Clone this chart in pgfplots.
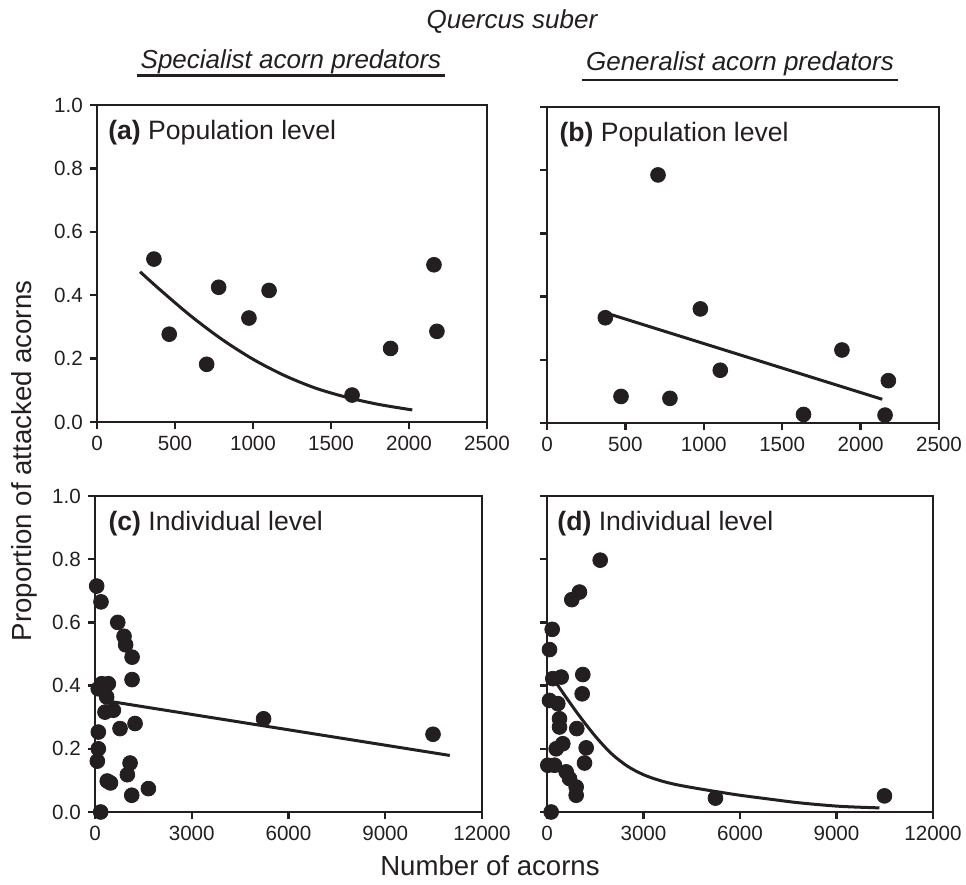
\documentclass[border=0pt]{standalone}
\usepackage{fontspec}
\setmainfont{Liberation Sans}
\usepackage{pgfplots}
\pgfplotsset{compat=1.18}
\definecolor{ink}{RGB}{35,31,32}

\pgfplotsset{
  panel/.style={
    scale only axis, anchor=south west, clip=false,
    axis line style={line width=1.2pt, ink},
    tick style={line width=1.2pt, ink},
    major tick length=3.6pt, tick align=outside,
    xtick pos=bottom, ytick pos=left,
    ymin=0, ymax=1, ytick={0,0.2,0.4,0.6,0.8,1},
    ticklabel style={font=\fontsize{10.3}{12}\selectfont, text=ink},
    /pgf/number format/assume math mode=true,
    /pgf/number format/set thousands separator={},
    yticklabel style={/pgf/number format/.cd, fixed, fixed zerofill, precision=1},
  },
  pop/.style={panel, xmin=0, xmax=2500, xtick={0,500,1000,1500,2000,2500}},
  ind/.style={panel, xmin=0, xmax=12000, xtick={0,3000,6000,9000,12000},
    scaled x ticks=false},
  dots/.style={only marks, mark=*, mark size=3.7pt, ink},
  fit/.style={ink, line width=1.5pt, no marks},
}
\tikzset{tag/.style={anchor=west, inner sep=0pt, font=\fontsize{13.3}{15}\selectfont, text=ink}}
\newcommand{\lbl}{\fontsize{13}{15}\selectfont}
\newcommand{\axl}{\fontsize{13.8}{16}\selectfont}

\begin{document}
\begin{tikzpicture}
\path[use as bounding box] (0,0) rectangle (483pt,442.5pt);

% (a)
\begin{axis}[pop, at={(48.5pt,231.5pt)}, width=195pt, height=158.5pt]
\addplot[dots] coordinates {(365,0.514) (463,0.277) (703,0.182) (780,0.425) (974,0.328)
  (1103,0.415) (1635,0.085) (1882,0.232) (2160,0.496) (2179,0.286)};
\addplot[fit, smooth] coordinates {(276,0.474) (400,0.419) (600,0.335) (800,0.261) (1000,0.198)
  (1200,0.147) (1400,0.107) (1600,0.078) (1800,0.056) (2021,0.038)};
\node[tag] at (rel axis cs:0.028,0.912) {\textbf{(a)} Population level};
\end{axis}

% (b)
\begin{axis}[pop, at={(273.5pt,231pt)}, width=196pt, height=158pt, yticklabels={}]
\addplot[dots] coordinates {(372,0.333) (472,0.084) (708,0.785) (784,0.078) (978,0.361)
  (1105,0.167) (1636,0.027) (1881,0.231) (2156,0.025) (2177,0.134)};
\addplot[fit] coordinates {(390,0.346) (2138,0.075)};
\node[tag] at (rel axis cs:0.031,0.912) {\textbf{(b)} Population level};
\end{axis}

% (c)
\begin{axis}[ind, at={(47.5pt,36.5pt)}, width=193.5pt, height=158pt]
\addplot[dots] coordinates {(52,0.715) (186,0.665) (705,0.600) (900,0.556) (950,0.529)
  (1150,0.490) (1149,0.419) (207,0.406) (413,0.406) (100,0.390) (362,0.364) (310,0.316)
  (569,0.322) (776,0.264) (1242,0.280) (103,0.253) (103,0.200) (72,0.161) (1087,0.155)
  (1004,0.118) (380,0.098) (480,0.092) (1656,0.074) (1139,0.053) (176,0.0)
  (5227,0.295) (10481,0.246)};
\addplot[fit] coordinates {(400,0.351) (11000,0.179)};
\node[tag] at (rel axis cs:0.034,0.912) {\textbf{(c)} Individual level};
\end{axis}

% (d)
\begin{axis}[ind, at={(273.5pt,36.5pt)}, width=193pt, height=158pt, yticklabels={}]
\addplot[dots] coordinates {(1654,0.797) (1010,0.696) (771,0.672) (162,0.578) (78,0.514)
  (181,0.422) (441,0.427) (1113,0.435) (1094,0.374) (78,0.353) (336,0.343) (389,0.295)
  (389,0.269) (926,0.264) (491,0.216) (286,0.200) (1218,0.203) (1166,0.155) (26,0.148)
  (233,0.148) (596,0.127) (700,0.106) (907,0.079) (907,0.053) (130,0.0)
  (5237,0.044) (10491,0.051)};
\addplot[fit, smooth] coordinates {(290,0.408) (600,0.362) (1000,0.305) (1500,0.240) (2000,0.185)
  (2500,0.145) (3000,0.118) (3500,0.100) (4000,0.087) (4700,0.074) (5300,0.064) (6000,0.053)
  (6900,0.041) (7850,0.029) (9100,0.018) (10336,0.013)};
\node[tag] at (rel axis cs:0.026,0.912) {\textbf{(d)} Individual level};
\end{axis}

% titles and labels
\node[font=\lbl\itshape, text=ink] at (256pt,431.5pt) {Quercus suber};
\node[font=\lbl\itshape, text=ink] at (145.5pt,411.5pt) {Specialist acorn predators};
\draw[ink, line width=1.4pt] (68.5pt,404.7pt) -- (222.5pt,404.7pt);
\node[font=\lbl\itshape, text=ink] at (370pt,410.5pt) {Generalist acorn predators};
\draw[ink, line width=1.4pt] (291pt,402.5pt) -- (449pt,402.5pt);
\node[font=\axl, text=ink, rotate=90] at (12pt,212pt) {Proportion of attacked acorns};
\node[font=\axl, text=ink] at (245pt,9.5pt) {Number of acorns};
\end{tikzpicture}
\end{document}
